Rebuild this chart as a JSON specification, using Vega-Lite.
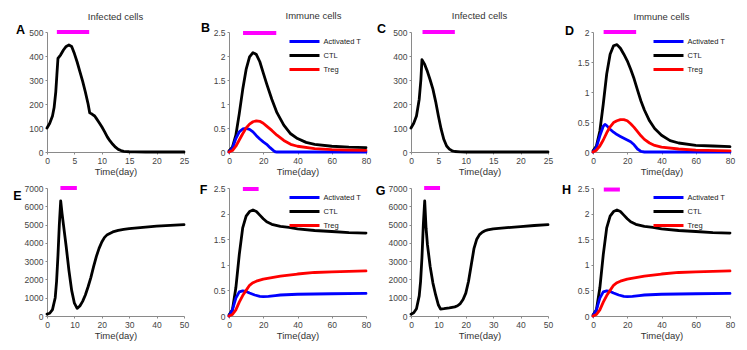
{
  "$schema": "https://vega.github.io/schema/vega-lite/v6.json",
  "padding": {"left": 12, "top": 10, "right": 5, "bottom": 5},
  "datasets": {
    "A": [{"t":0,"v":100},{"t":0.5,"v":120},{"t":1,"v":150},{"t":1.3,"v":185},{"t":1.6,"v":250},{"t":1.8,"v":320},{"t":2,"v":390},{"t":2.5,"v":405},{"t":3,"v":425},{"t":3.5,"v":440},{"t":4,"v":446},{"t":4.5,"v":440},{"t":5,"v":410},{"t":5.5,"v":375},{"t":6,"v":335},{"t":6.5,"v":295},{"t":7,"v":250},{"t":7.5,"v":200},{"t":7.8,"v":163},{"t":8.2,"v":158},{"t":8.7,"v":150},{"t":9,"v":140},{"t":9.5,"v":123},{"t":10,"v":105},{"t":10.5,"v":85},{"t":11,"v":63},{"t":11.5,"v":46},{"t":12,"v":32},{"t":12.5,"v":20},{"t":13,"v":11},{"t":13.5,"v":6},{"t":14,"v":3},{"t":15,"v":1},{"t":16,"v":0.3},{"t":18,"v":0},{"t":25,"v":0}],
    "B": [
      {"s":"CTL","t":0,"v":0.02},{"s":"CTL","t":2,"v":0.1},{"s":"CTL","t":4,"v":0.35},{"s":"CTL","t":6,"v":0.8},{"s":"CTL","t":8,"v":1.3},{"s":"CTL","t":10,"v":1.72},{"s":"CTL","t":12,"v":1.98},{"s":"CTL","t":14,"v":2.07},{"s":"CTL","t":16,"v":2.03},{"s":"CTL","t":18,"v":1.88},{"s":"CTL","t":20,"v":1.65},{"s":"CTL","t":22,"v":1.42},{"s":"CTL","t":25,"v":1.1},{"s":"CTL","t":28,"v":0.82},{"s":"CTL","t":32,"v":0.56},{"s":"CTL","t":36,"v":0.38},{"s":"CTL","t":40,"v":0.28},{"s":"CTL","t":45,"v":0.2},{"s":"CTL","t":50,"v":0.16},{"s":"CTL","t":60,"v":0.12},{"s":"CTL","t":70,"v":0.1},{"s":"CTL","t":80,"v":0.09},
      {"s":"Activated T","t":0,"v":0},{"s":"Activated T","t":2,"v":0.08},{"s":"Activated T","t":4,"v":0.28},{"s":"Activated T","t":6,"v":0.42},{"s":"Activated T","t":8,"v":0.48},{"s":"Activated T","t":10,"v":0.49},{"s":"Activated T","t":12,"v":0.47},{"s":"Activated T","t":14,"v":0.42},{"s":"Activated T","t":16,"v":0.34},{"s":"Activated T","t":18,"v":0.27},{"s":"Activated T","t":20,"v":0.21},{"s":"Activated T","t":22,"v":0.16},{"s":"Activated T","t":24,"v":0.09},{"s":"Activated T","t":26,"v":0.03},{"s":"Activated T","t":27,"v":0.005},{"s":"Activated T","t":28,"v":0},{"s":"Activated T","t":80,"v":0},
      {"s":"Treg","t":0,"v":0},{"s":"Treg","t":2,"v":0.03},{"s":"Treg","t":4,"v":0.12},{"s":"Treg","t":6,"v":0.25},{"s":"Treg","t":8,"v":0.38},{"s":"Treg","t":10,"v":0.5},{"s":"Treg","t":12,"v":0.58},{"s":"Treg","t":14,"v":0.63},{"s":"Treg","t":16,"v":0.65},{"s":"Treg","t":18,"v":0.64},{"s":"Treg","t":20,"v":0.6},{"s":"Treg","t":22,"v":0.54},{"s":"Treg","t":25,"v":0.45},{"s":"Treg","t":28,"v":0.35},{"s":"Treg","t":32,"v":0.24},{"s":"Treg","t":36,"v":0.16},{"s":"Treg","t":40,"v":0.12},{"s":"Treg","t":50,"v":0.07},{"s":"Treg","t":60,"v":0.05},{"s":"Treg","t":70,"v":0.04},{"s":"Treg","t":80,"v":0.035}
    ],
    "C": [{"t":0,"v":100},{"t":0.5,"v":120},{"t":1,"v":150},{"t":1.5,"v":220},{"t":1.8,"v":300},{"t":2,"v":385},{"t":2.5,"v":365},{"t":3,"v":335},{"t":3.5,"v":300},{"t":4,"v":262},{"t":4.5,"v":210},{"t":5,"v":150},{"t":5.5,"v":95},{"t":6,"v":52},{"t":6.5,"v":25},{"t":7,"v":12},{"t":7.5,"v":5},{"t":8,"v":2},{"t":9,"v":0.5},{"t":10,"v":0},{"t":25,"v":0}],
    "D": [
      {"s":"CTL","t":0,"v":0.02},{"s":"CTL","t":2,"v":0.1},{"s":"CTL","t":4,"v":0.35},{"s":"CTL","t":6,"v":0.8},{"s":"CTL","t":8,"v":1.3},{"s":"CTL","t":10,"v":1.63},{"s":"CTL","t":12,"v":1.77},{"s":"CTL","t":14,"v":1.79},{"s":"CTL","t":16,"v":1.73},{"s":"CTL","t":18,"v":1.63},{"s":"CTL","t":20,"v":1.52},{"s":"CTL","t":22,"v":1.38},{"s":"CTL","t":24,"v":1.22},{"s":"CTL","t":26,"v":1.03},{"s":"CTL","t":28,"v":0.85},{"s":"CTL","t":30,"v":0.7},{"s":"CTL","t":33,"v":0.52},{"s":"CTL","t":36,"v":0.39},{"s":"CTL","t":40,"v":0.28},{"s":"CTL","t":45,"v":0.19},{"s":"CTL","t":50,"v":0.15},{"s":"CTL","t":60,"v":0.11},{"s":"CTL","t":70,"v":0.1},{"s":"CTL","t":80,"v":0.09},
      {"s":"Activated T","t":0,"v":0},{"s":"Activated T","t":2,"v":0.08},{"s":"Activated T","t":4,"v":0.27},{"s":"Activated T","t":6,"v":0.43},{"s":"Activated T","t":7,"v":0.46},{"s":"Activated T","t":8,"v":0.44},{"s":"Activated T","t":10,"v":0.38},{"s":"Activated T","t":12,"v":0.33},{"s":"Activated T","t":14,"v":0.29},{"s":"Activated T","t":16,"v":0.26},{"s":"Activated T","t":18,"v":0.23},{"s":"Activated T","t":20,"v":0.2},{"s":"Activated T","t":22,"v":0.17},{"s":"Activated T","t":24,"v":0.12},{"s":"Activated T","t":26,"v":0.05},{"s":"Activated T","t":28,"v":0.01},{"s":"Activated T","t":30,"v":0},{"s":"Activated T","t":80,"v":0},
      {"s":"Treg","t":0,"v":0},{"s":"Treg","t":2,"v":0.03},{"s":"Treg","t":4,"v":0.1},{"s":"Treg","t":6,"v":0.2},{"s":"Treg","t":8,"v":0.32},{"s":"Treg","t":10,"v":0.42},{"s":"Treg","t":12,"v":0.49},{"s":"Treg","t":14,"v":0.52},{"s":"Treg","t":16,"v":0.54},{"s":"Treg","t":18,"v":0.54},{"s":"Treg","t":20,"v":0.52},{"s":"Treg","t":22,"v":0.47},{"s":"Treg","t":24,"v":0.41},{"s":"Treg","t":26,"v":0.34},{"s":"Treg","t":28,"v":0.27},{"s":"Treg","t":30,"v":0.21},{"s":"Treg","t":33,"v":0.15},{"s":"Treg","t":36,"v":0.11},{"s":"Treg","t":40,"v":0.08},{"s":"Treg","t":50,"v":0.05},{"s":"Treg","t":60,"v":0.03},{"s":"Treg","t":80,"v":0.02}
    ],
    "E": [{"t":0,"v":100},{"t":1,"v":150},{"t":2,"v":350},{"t":3,"v":1000},{"t":3.5,"v":1900},{"t":4,"v":3300},{"t":4.5,"v":5000},{"t":5,"v":6300},{"t":5.5,"v":5600},{"t":6,"v":5000},{"t":7,"v":3800},{"t":8,"v":2500},{"t":9,"v":1400},{"t":10,"v":700},{"t":11,"v":420},{"t":12,"v":550},{"t":13,"v":800},{"t":14,"v":1150},{"t":15,"v":1600},{"t":16,"v":2100},{"t":17,"v":2700},{"t":18,"v":3250},{"t":19,"v":3700},{"t":20,"v":4050},{"t":21,"v":4300},{"t":22,"v":4450},{"t":24,"v":4600},{"t":26,"v":4680},{"t":28,"v":4740},{"t":30,"v":4780},{"t":35,"v":4850},{"t":40,"v":4910},{"t":45,"v":4960},{"t":50,"v":5000}],
    "F": [
      {"s":"CTL","t":0,"v":0.02},{"s":"CTL","t":2,"v":0.12},{"s":"CTL","t":4,"v":0.55},{"s":"CTL","t":6,"v":1.2},{"s":"CTL","t":8,"v":1.72},{"s":"CTL","t":10,"v":1.95},{"s":"CTL","t":12,"v":2.04},{"s":"CTL","t":14,"v":2.07},{"s":"CTL","t":16,"v":2.04},{"s":"CTL","t":18,"v":1.97},{"s":"CTL","t":20,"v":1.9},{"s":"CTL","t":22,"v":1.84},{"s":"CTL","t":25,"v":1.79},{"s":"CTL","t":30,"v":1.75},{"s":"CTL","t":35,"v":1.73},{"s":"CTL","t":40,"v":1.7},{"s":"CTL","t":50,"v":1.67},{"s":"CTL","t":60,"v":1.65},{"s":"CTL","t":70,"v":1.63},{"s":"CTL","t":80,"v":1.62},
      {"s":"Activated T","t":0,"v":0},{"s":"Activated T","t":2,"v":0.12},{"s":"Activated T","t":4,"v":0.35},{"s":"Activated T","t":6,"v":0.47},{"s":"Activated T","t":8,"v":0.49},{"s":"Activated T","t":10,"v":0.48},{"s":"Activated T","t":12,"v":0.45},{"s":"Activated T","t":15,"v":0.41},{"s":"Activated T","t":18,"v":0.385},{"s":"Activated T","t":20,"v":0.38},{"s":"Activated T","t":23,"v":0.385},{"s":"Activated T","t":27,"v":0.4},{"s":"Activated T","t":30,"v":0.41},{"s":"Activated T","t":40,"v":0.425},{"s":"Activated T","t":50,"v":0.43},{"s":"Activated T","t":60,"v":0.435},{"s":"Activated T","t":80,"v":0.44},
      {"s":"Treg","t":0,"v":0},{"s":"Treg","t":2,"v":0.03},{"s":"Treg","t":4,"v":0.12},{"s":"Treg","t":6,"v":0.27},{"s":"Treg","t":8,"v":0.4},{"s":"Treg","t":10,"v":0.5},{"s":"Treg","t":12,"v":0.6},{"s":"Treg","t":14,"v":0.65},{"s":"Treg","t":16,"v":0.68},{"s":"Treg","t":20,"v":0.72},{"s":"Treg","t":25,"v":0.75},{"s":"Treg","t":30,"v":0.78},{"s":"Treg","t":40,"v":0.82},{"s":"Treg","t":50,"v":0.85},{"s":"Treg","t":60,"v":0.86},{"s":"Treg","t":70,"v":0.87},{"s":"Treg","t":80,"v":0.88}
    ],
    "G": [{"t":0,"v":100},{"t":1,"v":180},{"t":2,"v":400},{"t":3,"v":1100},{"t":3.5,"v":1900},{"t":4,"v":3200},{"t":4.5,"v":5000},{"t":5,"v":6300},{"t":5.5,"v":4800},{"t":6,"v":3900},{"t":7,"v":2700},{"t":8,"v":1800},{"t":9,"v":1150},{"t":10,"v":600},{"t":10.8,"v":380},{"t":12,"v":400},{"t":14,"v":440},{"t":16,"v":500},{"t":17,"v":560},{"t":18,"v":680},{"t":19,"v":900},{"t":20,"v":1250},{"t":21,"v":1900},{"t":22,"v":2800},{"t":23,"v":3700},{"t":24,"v":4200},{"t":25,"v":4450},{"t":26,"v":4580},{"t":27,"v":4660},{"t":28,"v":4710},{"t":30,"v":4760},{"t":35,"v":4830},{"t":40,"v":4890},{"t":45,"v":4950},{"t":50,"v":5000}],
    "H": [
      {"s":"CTL","t":0,"v":0.02},{"s":"CTL","t":2,"v":0.12},{"s":"CTL","t":4,"v":0.55},{"s":"CTL","t":6,"v":1.2},{"s":"CTL","t":8,"v":1.72},{"s":"CTL","t":10,"v":1.95},{"s":"CTL","t":12,"v":2.04},{"s":"CTL","t":14,"v":2.07},{"s":"CTL","t":16,"v":2.04},{"s":"CTL","t":18,"v":1.97},{"s":"CTL","t":20,"v":1.9},{"s":"CTL","t":22,"v":1.84},{"s":"CTL","t":25,"v":1.79},{"s":"CTL","t":30,"v":1.75},{"s":"CTL","t":35,"v":1.73},{"s":"CTL","t":40,"v":1.7},{"s":"CTL","t":50,"v":1.67},{"s":"CTL","t":60,"v":1.65},{"s":"CTL","t":70,"v":1.63},{"s":"CTL","t":80,"v":1.62},
      {"s":"Activated T","t":0,"v":0},{"s":"Activated T","t":2,"v":0.12},{"s":"Activated T","t":4,"v":0.35},{"s":"Activated T","t":6,"v":0.47},{"s":"Activated T","t":8,"v":0.49},{"s":"Activated T","t":10,"v":0.48},{"s":"Activated T","t":12,"v":0.45},{"s":"Activated T","t":15,"v":0.41},{"s":"Activated T","t":18,"v":0.385},{"s":"Activated T","t":20,"v":0.38},{"s":"Activated T","t":23,"v":0.385},{"s":"Activated T","t":27,"v":0.4},{"s":"Activated T","t":30,"v":0.41},{"s":"Activated T","t":40,"v":0.425},{"s":"Activated T","t":50,"v":0.43},{"s":"Activated T","t":60,"v":0.435},{"s":"Activated T","t":80,"v":0.44},
      {"s":"Treg","t":0,"v":0},{"s":"Treg","t":2,"v":0.03},{"s":"Treg","t":4,"v":0.12},{"s":"Treg","t":6,"v":0.27},{"s":"Treg","t":8,"v":0.4},{"s":"Treg","t":10,"v":0.5},{"s":"Treg","t":12,"v":0.6},{"s":"Treg","t":14,"v":0.65},{"s":"Treg","t":16,"v":0.68},{"s":"Treg","t":20,"v":0.72},{"s":"Treg","t":25,"v":0.75},{"s":"Treg","t":30,"v":0.78},{"s":"Treg","t":40,"v":0.82},{"s":"Treg","t":50,"v":0.85},{"s":"Treg","t":60,"v":0.86},{"s":"Treg","t":70,"v":0.87},{"s":"Treg","t":80,"v":0.88}
    ]
  },
  "bounds": "flush",
  "align": "each",
  "columns": 4,
  "spacing": {"row": 36, "column": 45},
  "resolve": {"scale": {"color": "independent"}, "legend": {"color": "independent"}},
  "concat": [
    {
      "width": 137, "height": 120,
      "title": {"text": "Infected cells", "offset": 2},
      "encoding": {
        "x": {"field": "t", "type": "quantitative", "scale": {"domain": [0, 25]}, "axis": {"values": [0, 5, 10, 15, 20, 25], "tickCount": 6, "format": "~f", "labelOverlap": false, "title": "Time(day)"}},
        "y": {"field": "v", "type": "quantitative", "scale": {"domain": [0, 500]}, "axis": {"values": [0, 100, 200, 300, 400, 500], "tickCount": 6, "format": "~f", "labelOverlap": false, "title": "A", "titleX": -27, "titleY": -3}}
      },
      "layer": [
        {"data": {"name": "A"}, "mark": {"type": "line", "color": "#000000", "strokeWidth": 2.8, "strokeJoin": "round", "strokeCap": "round"}},
        {"data": {"values": [{"t": 1.8, "t2": 7.7, "v": 500}]}, "mark": {"type": "rule", "color": "#ff00ff", "strokeWidth": 4}, "encoding": {"x2": {"field": "t2"}}}
      ]
    },
    {
      "width": 137, "height": 120,
      "title": {"text": "Immune cells", "dx": 16, "offset": 1},
      "encoding": {
        "x": {"field": "t", "type": "quantitative", "scale": {"domain": [0, 80]}, "axis": {"values": [0, 20, 40, 60, 80], "tickCount": 5, "format": "~f", "labelOverlap": false, "title": "Time(day)"}},
        "y": {"field": "v", "type": "quantitative", "scale": {"domain": [0, 2.5]}, "axis": {"values": [0, 0.5, 1, 1.5, 2, 2.5], "tickCount": 6, "format": "~f", "labelOverlap": false, "title": "B", "titleX": -24, "titleY": -5}}
      },
      "layer": [
        {"data": {"name": "B"}, "mark": {"type": "line", "strokeWidth": 2.8, "strokeJoin": "round", "strokeCap": "round"},
         "encoding": {"color": {"field": "s", "type": "nominal", "scale": {"domain": ["Activated T", "CTL", "Treg"], "range": ["#0000ff", "#000000", "#ff0000"]},
             "legend": {"title": null, "symbolType": "M-3.75,0H3.75", "symbolSize": 64, "symbolStrokeWidth": 3}}}},
        {"data": {"values": [{"t": 8.2, "t2": 27.6, "v": 2.48}]}, "mark": {"type": "rule", "color": "#ff00ff", "strokeWidth": 4}, "encoding": {"x2": {"field": "t2"}}}
      ]
    },
    {
      "width": 137, "height": 120,
      "title": {"text": "Infected cells", "offset": 2},
      "encoding": {
        "x": {"field": "t", "type": "quantitative", "scale": {"domain": [0, 25]}, "axis": {"values": [0, 5, 10, 15, 20, 25], "tickCount": 6, "format": "~f", "labelOverlap": false, "title": "Time(day)"}},
        "y": {"field": "v", "type": "quantitative", "scale": {"domain": [0, 500]}, "axis": {"values": [0, 100, 200, 300, 400, 500], "tickCount": 6, "format": "~f", "labelOverlap": false, "title": "C", "titleX": -30, "titleY": -4}}
      },
      "layer": [
        {"data": {"name": "C"}, "mark": {"type": "line", "color": "#000000", "strokeWidth": 2.8, "strokeJoin": "round", "strokeCap": "round"}},
        {"data": {"values": [{"t": 2.1, "t2": 8.0, "v": 500}]}, "mark": {"type": "rule", "color": "#ff00ff", "strokeWidth": 4}, "encoding": {"x2": {"field": "t2"}}}
      ]
    },
    {
      "width": 137, "height": 120,
      "title": {"text": "Immune cells", "offset": 3},
      "encoding": {
        "x": {"field": "t", "type": "quantitative", "scale": {"domain": [0, 80]}, "axis": {"values": [0, 20, 40, 60, 80], "tickCount": 5, "format": "~f", "labelOverlap": false, "title": "Time(day)"}},
        "y": {"field": "v", "type": "quantitative", "scale": {"domain": [0, 2]}, "axis": {"values": [0, 0.5, 1, 1.5, 2], "tickCount": 5, "format": "~f", "labelOverlap": false, "title": "D", "titleX": -24, "titleY": -2}}
      },
      "layer": [
        {"data": {"name": "D"}, "mark": {"type": "line", "strokeWidth": 2.8, "strokeJoin": "round", "strokeCap": "round"},
         "encoding": {"color": {"field": "s", "type": "nominal", "scale": {"domain": ["Activated T", "CTL", "Treg"], "range": ["#0000ff", "#000000", "#ff0000"]},
             "legend": {"title": null, "symbolType": "M-3.75,0H3.75", "symbolSize": 64, "symbolStrokeWidth": 3}}}},
        {"data": {"values": [{"t": 6.2, "t2": 25.2, "v": 2}]}, "mark": {"type": "rule", "color": "#ff00ff", "strokeWidth": 4}, "encoding": {"x2": {"field": "t2"}}}
      ]
    },
    {
      "width": 137, "height": 128,
      "encoding": {
        "x": {"field": "t", "type": "quantitative", "scale": {"domain": [0, 50]}, "axis": {"values": [0, 10, 20, 30, 40, 50], "tickCount": 6, "format": "~f", "labelOverlap": false, "title": "Time(day)"}},
        "y": {"field": "v", "type": "quantitative", "scale": {"domain": [0, 7000]}, "axis": {"values": [0, 1000, 2000, 3000, 4000, 5000, 6000, 7000], "tickCount": 8, "format": "~f", "labelOverlap": false, "title": "E", "titleX": -30, "titleY": 7}}
      },
      "layer": [
        {"data": {"name": "E"}, "mark": {"type": "line", "color": "#000000", "strokeWidth": 2.8, "strokeJoin": "round", "strokeCap": "round"}},
        {"data": {"values": [{"t": 4.9, "t2": 10.9, "v": 7000}]}, "mark": {"type": "rule", "color": "#ff00ff", "strokeWidth": 4}, "encoding": {"x2": {"field": "t2"}}}
      ]
    },
    {
      "width": 137, "height": 128,
      "encoding": {
        "x": {"field": "t", "type": "quantitative", "scale": {"domain": [0, 80]}, "axis": {"values": [0, 20, 40, 60, 80], "tickCount": 5, "format": "~f", "labelOverlap": false, "title": "Time(day)"}},
        "y": {"field": "v", "type": "quantitative", "scale": {"domain": [0, 2.5]}, "axis": {"values": [0, 0.5, 1, 1.5, 2, 2.5], "tickCount": 6, "format": "~f", "labelOverlap": false, "title": "F", "titleX": -26, "titleY": 1}}
      },
      "layer": [
        {"data": {"name": "F"}, "mark": {"type": "line", "strokeWidth": 2.8, "strokeJoin": "round", "strokeCap": "round"},
         "encoding": {"color": {"field": "s", "type": "nominal", "scale": {"domain": ["Activated T", "CTL", "Treg"], "range": ["#0000ff", "#000000", "#ff0000"]},
             "legend": {"title": null, "symbolType": "M-3.75,0H3.75", "symbolSize": 64, "symbolStrokeWidth": 3}}}},
        {"data": {"values": [{"t": 8.1, "t2": 17.3, "v": 2.48}]}, "mark": {"type": "rule", "color": "#ff00ff", "strokeWidth": 4}, "encoding": {"x2": {"field": "t2"}}}
      ]
    },
    {
      "width": 137, "height": 128,
      "encoding": {
        "x": {"field": "t", "type": "quantitative", "scale": {"domain": [0, 50]}, "axis": {"values": [0, 10, 20, 30, 40, 50], "tickCount": 6, "format": "~f", "labelOverlap": false, "title": "Time(day)"}},
        "y": {"field": "v", "type": "quantitative", "scale": {"domain": [0, 7000]}, "axis": {"values": [0, 1000, 2000, 3000, 4000, 5000, 6000, 7000], "tickCount": 8, "format": "~f", "labelOverlap": false, "title": "G", "titleX": -31, "titleY": 2}}
      },
      "layer": [
        {"data": {"name": "G"}, "mark": {"type": "line", "color": "#000000", "strokeWidth": 2.8, "strokeJoin": "round", "strokeCap": "round"}},
        {"data": {"values": [{"t": 4.8, "t2": 10.6, "v": 7000}]}, "mark": {"type": "rule", "color": "#ff00ff", "strokeWidth": 4}, "encoding": {"x2": {"field": "t2"}}}
      ]
    },
    {
      "width": 137, "height": 128,
      "encoding": {
        "x": {"field": "t", "type": "quantitative", "scale": {"domain": [0, 80]}, "axis": {"values": [0, 20, 40, 60, 80], "tickCount": 5, "format": "~f", "labelOverlap": false, "title": "Time(day)"}},
        "y": {"field": "v", "type": "quantitative", "scale": {"domain": [0, 2.5]}, "axis": {"values": [0, 0.5, 1, 1.5, 2, 2.5], "tickCount": 6, "format": "~f", "labelOverlap": false, "title": "H", "titleX": -27, "titleY": 1}}
      },
      "layer": [
        {"data": {"name": "H"}, "mark": {"type": "line", "strokeWidth": 2.8, "strokeJoin": "round", "strokeCap": "round"},
         "encoding": {"color": {"field": "s", "type": "nominal", "scale": {"domain": ["Activated T", "CTL", "Treg"], "range": ["#0000ff", "#000000", "#ff0000"]},
             "legend": {"title": null, "symbolType": "M-3.75,0H3.75", "symbolSize": 64, "symbolStrokeWidth": 3}}}},
        {"data": {"values": [{"t": 6.3, "t2": 15.7, "v": 2.47}]}, "mark": {"type": "rule", "color": "#ff00ff", "strokeWidth": 4}, "encoding": {"x2": {"field": "t2"}}}
      ]
    }
  ],
  "config": {
    "background": "#ffffff",
    "font": "Liberation Sans",
    "view": {"stroke": null},
    "axis": {
      "grid": false, "domainColor": "#8a8a8a", "tickColor": "#8a8a8a", "tickSize": 2,
      "labelFont": "Liberation Sans", "labelFontSize": 8.5, "labelColor": "#444444", "labelPadding": 2, "labelFlush": false,
      "titleFont": "Liberation Sans", "titleFontSize": 9.5, "titleFontWeight": "normal", "titleColor": "#333333", "titlePadding": 2
    },
    "axisY": {
      "titleAngle": 0, "titleAlign": "center", "titleBaseline": "middle",
      "titleFontSize": 12.5, "titleFontWeight": "bold", "titleColor": "#000000"
    },
    "title": {"font": "Liberation Sans", "fontSize": 9.5, "fontWeight": "normal", "color": "#333333"},
    "legend": {
      "orient": "top-right", "offset": 4, "padding": 0, "rowPadding": 1,
      "labelFont": "Liberation Sans", "labelFontSize": 7.5, "labelColor": "#222222", "labelOffset": 13.5
    }
  }
}
